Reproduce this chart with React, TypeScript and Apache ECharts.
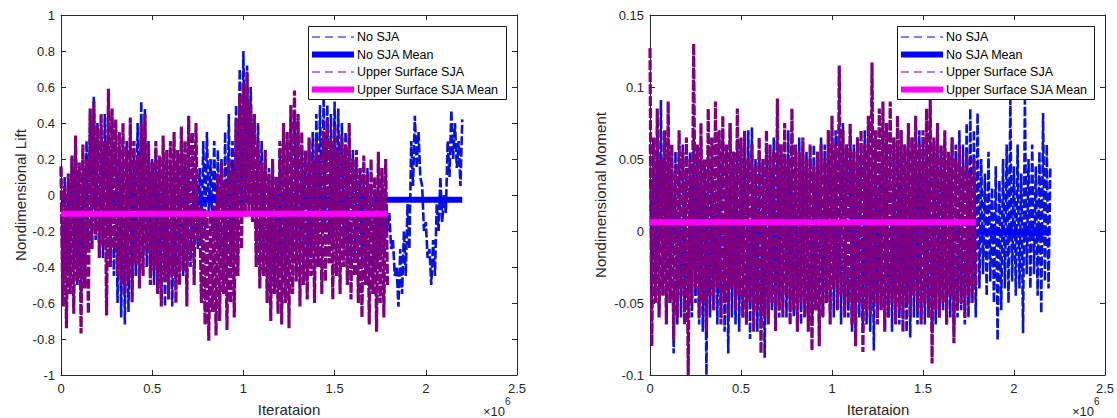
import React, { useEffect, useRef } from "react";
import * as echarts from "echarts";

// ---------- data ----------
const ITER_STEP = 10000; // iterations between consecutive samples
const X_MIN = 0;
const X_MAX = 2500000;
const X_INTERVAL = 500000;

const seriesNames = ["No SJA", "No SJA Mean", "Upper Surface SJA", "Upper Surface SJA Mean"];

// Nondimensional lift, No SJA (0 .. 2.2e6)
const liftNoSJA = [
  0.15, -0.5, 0.1, -0.45, 0.05, -0.55, 0.2, -0.4, 0.25, -0.5,
  0.15, -0.6, 0.2, -0.45, 0.3, -0.3, 0.45, -0.2, 0.55, -0.25,
  0.4, -0.3, 0.35, -0.35, 0.45, -0.3, 0.5, -0.4, 0.4, -0.45,
  0.3, -0.6, 0.25, -0.68, 0.2, -0.72, 0.3, -0.65, 0.35, -0.55,
  0.25, -0.45, 0.4, -0.35, 0.52, -0.3, 0.48, -0.4, 0.3, -0.45,
  0.2, -0.5, 0.25, -0.55, 0.15, -0.6, 0.2, -0.62, 0.1, -0.58,
  0.15, -0.62, 0.2, -0.5, 0.25, -0.4, 0.3, -0.45, 0.2, -0.5,
  0.3, -0.4, 0.25, -0.35, 0.1, -0.3, 0.15, -0.25, 0.3, -0.2,
  0.35, -0.1, 0.2, -0.2, 0.3, -0.25, 0.25, -0.3, 0.2, -0.45,
  0.35, -0.5, 0.45, -0.4, 0.3, -0.35, 0.5, -0.2, 0.7, -0.1,
  0.8, 0.0, 0.72, -0.05, 0.6, -0.1, 0.45, -0.2, 0.4, -0.3,
  0.3, -0.35, 0.2, -0.45, 0.15, -0.5, 0.2, -0.55, 0.1, -0.5,
  0.25, -0.45, 0.35, -0.5, 0.3, -0.4, 0.4, -0.35, 0.45, -0.3,
  0.35, -0.35, 0.25, -0.4, 0.2, -0.45, 0.3, -0.35, 0.35, -0.3,
  0.45, -0.25, 0.5, -0.2, 0.55, -0.15, 0.5, -0.25, 0.45, -0.3,
  0.52, -0.2, 0.48, -0.25, 0.4, -0.3, 0.35, -0.35, 0.3, -0.4,
  0.25, -0.35, 0.2, -0.45, 0.15, -0.4, 0.1, -0.5, 0.15, -0.45,
  0.05, -0.5, 0.1, -0.4, 0.0, -0.35, 0.05, -0.3, -0.05, -0.2,
  -0.1, -0.3, -0.25, -0.45, -0.4, -0.62, -0.3, -0.55, -0.2, -0.45,
  -0.05, -0.3, 0.3, 0.05, 0.44, 0.15, 0.35, 0.1, 0.05, -0.2,
  -0.15, -0.35, -0.3, -0.5, -0.25, -0.45, -0.05, -0.2, 0.1, -0.15,
  0.0, -0.1, 0.3, 0.1, 0.47, 0.2, 0.4, 0.15, 0.3, 0.05,
  0.42,
];

// Nondimensional lift, Upper Surface SJA (0 .. 1.79e6)
const liftUpperSJA = [
  0.16, -0.62, 0.05, -0.74, 0.12, -0.55, 0.22, -0.66, 0.33, -0.48,
  0.18, -0.77, 0.28, -0.52, 0.2, -0.66, 0.48, -0.3, 0.52, -0.22,
  0.38, -0.35, 0.45, -0.28, 0.3, -0.67, 0.59, -0.4, 0.48, -0.3,
  0.42, -0.45, 0.35, -0.5, 0.4, -0.55, 0.27, -0.48, 0.43, -0.6,
  0.3, -0.38, 0.22, -0.52, 0.4, -0.45, 0.45, -0.3, 0.28, -0.5,
  0.18, -0.42, 0.3, -0.55, 0.22, -0.62, 0.33, -0.48, 0.25, -0.58,
  0.3, -0.45, 0.35, -0.6, 0.25, -0.5, 0.38, -0.42, 0.3, -0.62,
  0.44, -0.35, 0.35, -0.5, 0.4, -0.25, -0.07, -0.6, -0.08, -0.72,
  -0.09, -0.81, -0.1, -0.65, -0.06, -0.78, 0.12, -0.7, 0.18, -0.55,
  0.08, -0.75, 0.2, -0.6, 0.15, -0.68, 0.42, -0.45, 0.55, -0.3,
  0.62, -0.12, 0.68, -0.1, 0.5, -0.15, 0.45, -0.4, 0.3, -0.52,
  0.18, -0.45, 0.25, -0.6, 0.12, -0.7, 0.2, -0.55, 0.1, -0.66,
  0.3, -0.72, 0.4, -0.6, 0.35, -0.74, 0.5, -0.55, 0.58, -0.48,
  0.45, -0.62, 0.35, -0.5, 0.25, -0.58, 0.32, -0.45, 0.2, -0.6,
  0.3, -0.4, 0.22, -0.55, 0.35, -0.48, 0.42, -0.38, 0.3, -0.58,
  0.38, -0.45, 0.25, -0.55, 0.33, -0.4, 0.28, -0.5, 0.4, -0.58,
  0.2, -0.45, 0.25, -0.6, 0.15, -0.68, 0.22, -0.5, 0.12, -0.72,
  0.2, -0.55, 0.1, -0.76, 0.24, -0.6, 0.15, -0.68, 0.2, -0.5,
];

// Nondimensional moment, No SJA (0 .. 2.2e6)
const momentNoSJA = [
  0.06, -0.04, 0.05, -0.05, 0.07, -0.055, 0.091, -0.04, 0.05, -0.06,
  0.06, -0.05, 0.04, -0.085, 0.055, -0.065, 0.05, -0.06, 0.06, -0.05,
  0.04, -0.055, 0.055, -0.06, 0.065, -0.05, 0.05, -0.065, 0.06, -0.07,
  0.045, -0.1, 0.055, -0.06, 0.05, -0.055, 0.06, -0.065, 0.05, -0.06,
  0.065, -0.07, 0.05, -0.085, 0.075, -0.06, 0.055, -0.065, 0.06, -0.07,
  0.05, -0.06, 0.065, -0.065, 0.07, -0.075, 0.072, -0.06, 0.05, -0.07,
  0.055, -0.065, 0.045, -0.088, 0.06, -0.06, 0.05, -0.055, 0.065, -0.065,
  0.055, -0.06, 0.06, -0.05, 0.05, -0.06, 0.07, -0.055, 0.06, -0.06,
  0.05, -0.05, 0.065, -0.065, 0.06, -0.055, 0.055, -0.06, 0.05, -0.065,
  0.06, -0.055, 0.055, -0.07, 0.065, -0.06, 0.06, -0.05, 0.07, -0.055,
  0.06, -0.06, 0.07, -0.05, 0.065, -0.065, 0.075, -0.055, 0.06, -0.06,
  0.07, -0.07, 0.06, -0.065, 0.065, -0.06, 0.055, -0.07, 0.07, -0.065,
  0.06, -0.07, 0.05, -0.083, 0.065, -0.06, 0.06, -0.055, 0.07, -0.065,
  0.06, -0.06, 0.055, -0.07, 0.065, -0.06, 0.06, -0.065, 0.07, -0.06,
  0.06, -0.07, 0.055, -0.074, 0.065, -0.06, 0.06, -0.065, 0.07, -0.06,
  0.06, -0.065, 0.065, -0.06, 0.055, -0.07, 0.06, -0.065, 0.065, -0.06,
  0.055, -0.055, 0.06, -0.065, 0.05, -0.06, 0.065, -0.07, 0.06, -0.06,
  0.07, -0.055, 0.06, -0.065, 0.075, -0.06, 0.085, -0.05, 0.07, -0.06,
  0.082, -0.04, 0.05, -0.03, 0.04, -0.045, 0.055, -0.035, 0.03, -0.05,
  0.045, -0.076, 0.035, -0.055, 0.05, -0.04, 0.06, -0.05, 0.091, -0.035,
  0.045, -0.045, 0.06, -0.04, 0.04, -0.071, 0.091, -0.03, 0.05, -0.04,
  0.06, -0.03, 0.045, -0.045, 0.055, -0.057, 0.082, -0.035, 0.06, -0.04,
  0.045,
];

// Nondimensional moment, Upper Surface SJA (0 .. 1.79e6)
const momentUpperSJA = [
  0.127, -0.08, 0.065, -0.05, 0.085, -0.06, 0.05, -0.045, 0.07, -0.065,
  0.09, -0.05, 0.06, -0.075, 0.045, -0.06, 0.07, -0.045, 0.055, -0.065,
  0.065, -0.1, 0.05, -0.05, 0.13, -0.04, 0.06, -0.06, 0.075, -0.05,
  0.05, -0.07, 0.085, -0.045, 0.065, -0.055, 0.09, -0.04, 0.07, -0.065,
  0.08, -0.05, 0.06, -0.06, 0.075, -0.04, 0.055, -0.055, 0.085, -0.045,
  0.065, -0.06, 0.07, -0.065, 0.05, -0.05, 0.06, -0.07, 0.045, -0.055,
  0.065, -0.085, 0.05, -0.06, 0.07, -0.065, 0.06, -0.05, 0.055, -0.07,
  0.092, -0.055, 0.06, -0.06, 0.075, -0.045, 0.05, -0.065, 0.085, -0.055,
  0.06, -0.07, 0.055, -0.05, 0.065, -0.06, 0.05, -0.07, 0.06, -0.083,
  0.045, -0.055, 0.055, -0.08, 0.06, -0.06, 0.05, -0.05, 0.07, -0.065,
  0.08, -0.04, 0.06, -0.055, 0.115, -0.045, 0.07, -0.06, 0.06, -0.05,
  0.075, -0.065, 0.055, -0.08, 0.065, -0.05, 0.07, -0.084, 0.06, -0.055,
  0.08, -0.06, 0.117, -0.05, 0.07, -0.065, 0.085, -0.055, 0.09, -0.07,
  0.075, -0.06, 0.09, -0.05, 0.065, -0.065, 0.08, -0.055, 0.07, -0.07,
  0.06, -0.05, 0.075, -0.06, 0.065, -0.045, 0.08, -0.055, 0.06, -0.065,
  0.07, -0.05, 0.085, -0.06, 0.091, -0.092, 0.065, -0.055, 0.075, -0.06,
  0.06, -0.05, 0.07, -0.065, 0.055, -0.045, 0.065, -0.078, 0.05, -0.055,
  0.06, -0.05, 0.045, -0.06, 0.055, -0.045, 0.04, -0.05, 0.05, -0.04,
];

// means: [No SJA, Upper Surface SJA]
const liftMeans = [-0.027, -0.104];
const momentMeans = [-0.001, 0.006];
const meanSpanNoSJA = [0, 2200000];
const meanSpanUpperSJA = [0, 1790000];

// ---------- styling ----------
const FONT = '"Liberation Sans", Arial, Helvetica, sans-serif';
const AXIS_COLOR = "#262626";
const BLUE_DATA = "#0a14d2";
const BLUE_MEAN = "#0000ff";
const PURPLE = "#7e0080";
const MAGENTA = "#ff00ff";

const toPairs = (vals: number[]) => vals.map((v, i) => [i * ITER_STEP, v]);
const meanLine = (span: number[], v: number) => span.map((x) => [x, v]);

const fmtY = (v: number) => String(parseFloat(v.toFixed(3)));
const fmtX = (v: number) => String(parseFloat((v / 1e6).toFixed(2)));

function xAxes(gridIndex: number) {
  const common = {
    type: "value",
    gridIndex,
    min: X_MIN,
    max: X_MAX,
    interval: X_INTERVAL,
    splitLine: { show: false },
    axisLine: { show: true, onZero: false, lineStyle: { color: AXIS_COLOR, width: 1 } },
    axisTick: { show: true, inside: true, length: 5, lineStyle: { color: AXIS_COLOR, width: 1 } },
  };
  return [
    {
      ...common,
      position: "bottom",
      axisLabel: {
        show: true,
        formatter: fmtX,
        margin: 7,
        fontSize: 13,
        fontFamily: FONT,
        color: AXIS_COLOR,
        showMinLabel: true,
        showMaxLabel: true,
      },
    },
    { ...common, position: "top", axisLabel: { show: false } },
  ];
}

function yAxes(gridIndex: number, min: number, max: number, interval: number) {
  const common = {
    type: "value",
    gridIndex,
    min,
    max,
    interval,
    splitLine: { show: false },
    axisLine: { show: true, onZero: false, lineStyle: { color: AXIS_COLOR, width: 1 } },
    axisTick: { show: true, inside: true, length: 5, lineStyle: { color: AXIS_COLOR, width: 1 } },
  };
  return [
    {
      ...common,
      position: "left",
      axisLabel: {
        show: true,
        formatter: fmtY,
        margin: 6,
        fontSize: 13,
        fontFamily: FONT,
        color: AXIS_COLOR,
        showMinLabel: true,
        showMaxLabel: true,
      },
    },
    { ...common, position: "right", axisLabel: { show: false } },
  ];
}

function panelSeries(axisIndex: number, noSJA: number[], upper: number[], means: number[]) {
  const base = {
    type: "line",
    xAxisIndex: axisIndex,
    yAxisIndex: axisIndex,
    symbol: "none",
    showSymbol: false,
    silent: true,
    clip: true,
  };
  return [
    { ...base, name: seriesNames[0], data: toPairs(noSJA), lineStyle: { color: BLUE_DATA, width: 2.6, type: [9, 2.5] } },
    { ...base, name: seriesNames[1], data: meanLine(meanSpanNoSJA, means[0]), lineStyle: { color: BLUE_MEAN, width: 6, cap: "butt" } },
    { ...base, name: seriesNames[2], data: toPairs(upper), lineStyle: { color: PURPLE, width: 3.2, type: [10, 2] } },
    { ...base, name: seriesNames[3], data: meanLine(meanSpanUpperSJA, means[1]), lineStyle: { color: MAGENTA, width: 6, cap: "butt" } },
  ];
}

function legendElements(x: number, y: number, w: number) {
  const h = 73;
  const rows = [
    { color: BLUE_MEAN, width: 1, dash: [8, 5] },
    { color: BLUE_MEAN, width: 6, dash: null },
    { color: PURPLE, width: 1, dash: [8, 5] },
    { color: MAGENTA, width: 6, dash: null },
  ];
  const rowY = [11, 28.5, 46, 63.5];
  const els: any[] = [
    {
      type: "rect",
      z: 100,
      shape: { x: x + 0.5, y: y + 0.5, width: w, height: h },
      style: { fill: "#ffffff", stroke: "#1a1a1a", lineWidth: 1 },
    },
  ];
  rows.forEach((r, i) => {
    els.push({
      type: "line",
      z: 101,
      shape: { x1: x + 4, y1: y + rowY[i], x2: x + 46, y2: y + rowY[i] },
      style: { stroke: r.color, lineWidth: r.width, lineDash: r.dash || null },
    });
    els.push({
      type: "text",
      z: 101,
      x: x + 49,
      y: y + rowY[i],
      style: {
        text: seriesNames[i],
        fill: "#000000",
        font: `12.5px ${FONT}`,
        align: "left",
        verticalAlign: "middle",
      },
    });
  });
  return els;
}

function titleText(text: string, x: number, y: number, rotation = 0) {
  return {
    type: "text",
    x,
    y,
    rotation,
    style: { text, fill: AXIS_COLOR, font: `15px ${FONT}`, align: "center", verticalAlign: "middle" },
  };
}

function exponentTexts(right: number) {
  return [
    {
      type: "text",
      x: right - 34,
      y: 411,
      style: { text: "×10", fill: AXIS_COLOR, font: `13px ${FONT}`, align: "left", verticalAlign: "middle" },
    },
    {
      type: "text",
      x: right - 12,
      y: 401,
      style: { text: "6", fill: AXIS_COLOR, font: `10px ${FONT}`, align: "left", verticalAlign: "middle" },
    },
  ];
}

export default function App() {
  const ref = useRef<HTMLDivElement>(null);

  useEffect(() => {
    document.body.style.margin = "0";
    if (!ref.current) return;
    const chart = echarts.init(ref.current, null, { renderer: "svg" });
    const option = {
      animation: false,
      backgroundColor: "#ffffff",
      grid: [
        { left: 61, top: 15, width: 456, height: 360 },
        { left: 650, top: 15, width: 456, height: 360 },
      ],
      xAxis: [...xAxes(0), ...xAxes(1)],
      yAxis: [...yAxes(0, -1, 1, 0.2), ...yAxes(1, -0.1, 0.15, 0.05)],
      series: [
        ...panelSeries(0, liftNoSJA, liftUpperSJA, liftMeans),
        ...panelSeries(2, momentNoSJA, momentUpperSJA, momentMeans),
      ],
      graphic: [
        titleText("Iterataion", 289, 409),
        titleText("Iterataion", 878, 409),
        titleText("Nondimensional Lift", 20, 195, Math.PI / 2),
        titleText("Nondimensional Moment", 600, 195, Math.PI / 2),
        ...exponentTexts(517),
        ...exponentTexts(1106),
        ...legendElements(308, 26, 198),
        ...legendElements(897, 26, 197),
      ],
    };
    chart.setOption(option as any);
    return () => chart.dispose();
  }, []);

  return <div ref={ref} style={{ width: 1117, height: 418 }} />;
}
